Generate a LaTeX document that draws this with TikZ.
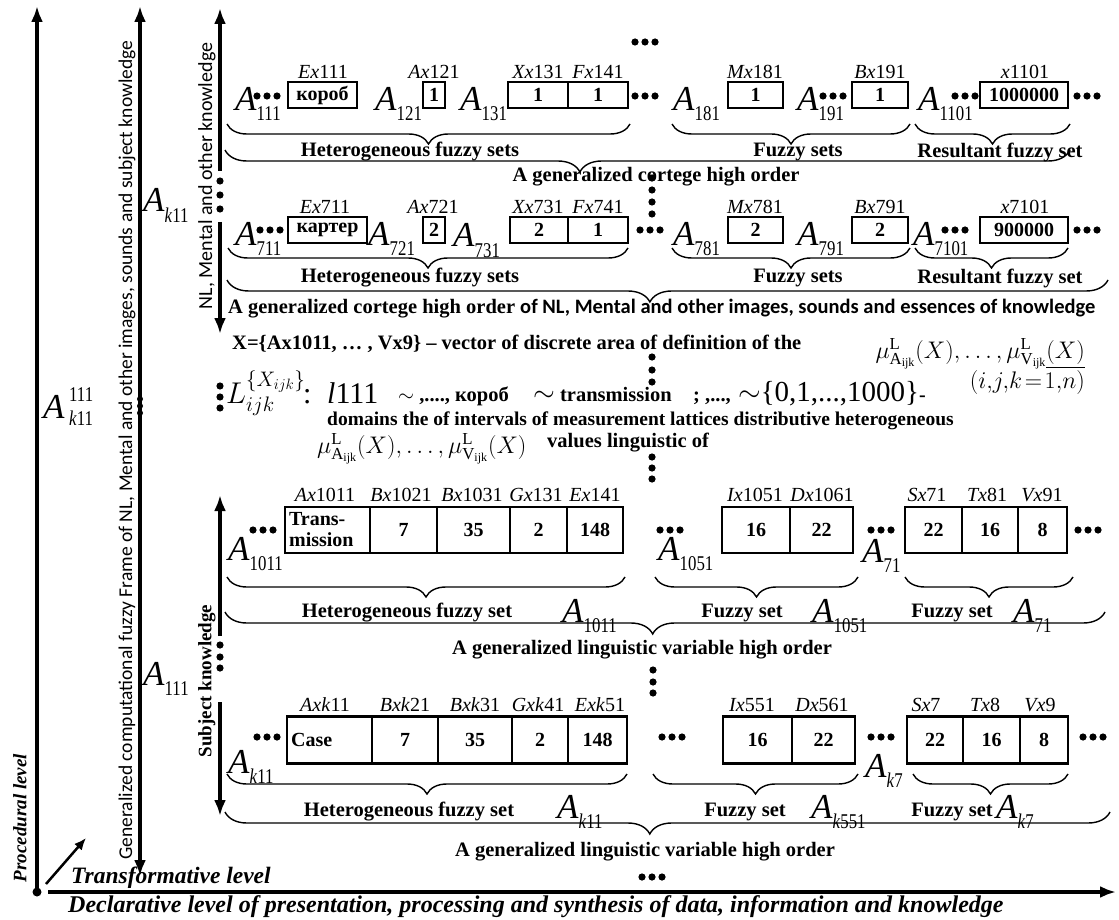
\RequirePackage{fix-cm}
\documentclass[tikz,border=0pt]{standalone}
\usepackage{amsmath}
\usepackage{fontspec}
\setmainfont{Liberation Serif}
\newfontfamily\calib{Carlito}
\usepackage{graphicx}
\usepackage{tikz}
\usetikzlibrary{arrows.meta, decorations.pathreplacing}
\newcommand{\dotrow}[2]{
\foreach \d in {-10,0,10} {\fill (#1+\d,#2) circle (3.6pt);}
}
\newcommand{\Aidx}[1]{\textit{A}\raisebox{-10pt}{\scalebox{0.8}[1]{\fontsize{21}{21}\selectfont #1}}}
\newcommand{\xlab}[2]{\textit{#1}#2}

\tikzset{
  cellbox/.style={draw, line width=2.2pt, inner sep=0pt, font=\fontsize{20}{20}\selectfont\bfseries},
  toplabel/.style={font=\fontsize{20}{20}\selectfont, inner sep=0pt},
  bigA/.style={anchor=base west, inner sep=0pt, font=\fontsize{35}{35}\selectfont},
  bracedown/.style={line width=1.4pt, decorate, decoration={brace, mirror, amplitude=20pt}},
  bigbrace/.style={line width=1.4pt, decorate, decoration={brace, mirror, amplitude=22pt, aspect=#1}},
  bracetext/.style={font=\fontsize{20.5}{20}\selectfont\bfseries, inner sep=0pt},
  axis/.style={line width=3.5pt, -{Latex[length=16pt,width=12pt]}},
  axisboth/.style={line width=3.5pt, {Latex[length=16pt,width=12pt]}-{Latex[length=16pt,width=12pt]}},
}

\begin{document}
\begin{tikzpicture}[x=1pt, y=-1pt]
    \fill[white] (0,0) rectangle (1119,920);
    \useasboundingbox (0,0) rectangle (1119,920);

    % levels
    \coordinate (procbot) at (37,892);
    \coordinate (proctop) at (37,6);
    \coordinate (declstart) at (48,892);
    \coordinate (declend) at (1116,892);
    \coordinate (transA) at (46,884);
    \coordinate (transB) at (86,838);
    \draw[axis] (procbot) -- (proctop);
    \draw[axis] (declstart) -- (declend);
    \draw[line width=2.5pt, -{Latex[length=12pt,width=10pt]}] (transA) -- (transB);
    \fill (procbot) circle (4.5pt);
    \node[rotate=90, font=\fontsize{19}{19}\selectfont\bfseries\itshape] (proclevel) at (20,818) {Procedural level};
    \node[anchor=base west, font=\fontsize{23.5}{23.5}\selectfont\bfseries\itshape, inner sep=0pt] (translevel) at (71,883) {Transformative level};
    \node[anchor=base west, font=\fontsize{24}{24}\selectfont\bfseries\itshape, inner sep=0pt] (decllevel) at (68,912) {Declarative level of presentation, processing and synthesis of data, information and knowledge};
    \dotrow{652}{877}

    % frame axis
    \coordinate (framebot) at (140,876);
    \coordinate (frametop) at (140,6);
    \draw[axisboth] (framebot) -- (frametop);
    \foreach \y in {399,406,413} {\fill (140,\y) circle (3pt);}
    \node[rotate=90, font=\calib\fontsize{19.5}{19.5}\selectfont] (frametext) at (127,450) {Generalized computational fuzzy Frame of NL, Mental and other images, sounds and subject knowledge};
    \node[bigA] (akeleven) at (43,418) {\textit{A}};
    \node[anchor=base west, inner sep=0pt, font=\fontsize{21}{21}\selectfont] (akelevensup) at (69,401) {\scalebox{0.8}[1]{111}};
    \node[anchor=base west, inner sep=0pt, font=\fontsize{21}{21}\selectfont] (akelevensub) at (69,425) {\scalebox{0.8}[1]{\textit{k}11}};
    \node[bigA] (ak11left) at (143,212) {\Aidx{\textit{k}11}};
    \node[bigA] (a111left) at (143,685) {\Aidx{111}};

    % NL axis
    \coordinate (nltop) at (220,8);
    \coordinate (nlmid) at (220,171);
    \coordinate (nlmidb) at (220,222);
    \coordinate (nlbot) at (220,334);
    \draw[axis] (nlmid) -- (nltop);
    \draw[axis] (nlmidb) -- (nlbot);
    \foreach \y in {181,195,209} {\fill (220,\y) circle (3.6pt);}
    \node[rotate=90, font=\calib\fontsize{20}{20}\selectfont] (nltext) at (207,176) {NL, Mental and other knowledge};

    % row 1
    \dotrow{645}{42}
    \foreach \xa/\xb/\txt [count=\i] in {288/357/короб, 423/445/1, 508/568/1, 568/628/1, 728/783/1, 852/908/1, 980/1068/1000000}
        \node[cellbox, minimum width={(\xb-\xa)*1pt}, minimum height=26pt] (ra\i) at ({(\xa+\xb)/2},95) {\txt};
    \foreach \x/\a/\n [count=\i] in {323/Ex/111, 434/Ax/121, 538/Xx/131, 598/Fx/141, 755/Mx/181, 880/Bx/191, 1025/x/1101}
        \node[toplabel] (la\i) at (\x,72) {\xlab{\a}{\n}};
    \node[bigA] (a111) at (235,111) {\Aidx{111}};
    \node[bigA] (a121) at (375,111) {\Aidx{121}};
    \node[bigA] (a131) at (460,111) {\Aidx{131}};
    \node[bigA] (a181) at (673,111) {\Aidx{181}};
    \node[bigA] (a191) at (797,111) {\Aidx{191}};
    \node[bigA] (a1101) at (918,111) {\Aidx{1101}};
    \dotrow{267}{96}
    \dotrow{645}{96}
    \dotrow{833}{96}
    \dotrow{965}{96}
    \dotrow{1087}{96}
    \draw[bracedown] (227,124) -- (630,124);
    \draw[bracedown] (672,124) -- (910,124);
    \draw[bracedown] (915,124) -- (1070,124);
    \node[bracetext] (hfs1) at (410,152) {Heterogeneous fuzzy sets};
    \node[bracetext] (fs1) at (798,152) {Fuzzy sets};
    \node[bracetext] (rfs1) at (1000,152) {Resultant fuzzy set};
    \draw[bigbrace=0.42] (225,150) -- (1070,150);
    \node[bracetext] (gc1) at (656,177) {A generalized cortege high order};
    \foreach \y in {178,190,202,214} {\fill (652,\y) circle (3.6pt);}

    % row 2
    \foreach \xa/\xb/\txt [count=\i] in {288/367/картер, 423/445/2, 510/568/2, 568/628/1, 728/783/2, 852/908/2, 980/1068/900000}
        \node[cellbox, minimum width={(\xb-\xa)*1pt}, minimum height=26pt] (rb\i) at ({(\xa+\xb)/2},230) {\txt};
    \foreach \x/\a/\n [count=\i] in {325/Ex/711, 433/Ax/721, 538/Xx/731, 598/Fx/741, 755/Mx/781, 880/Bx/791, 1025/x/7101}
        \node[toplabel] (lb\i) at (\x,207) {\xlab{\a}{\n}};
    \node[bigA] (a711) at (235,245) {\Aidx{711}};
    \node[bigA] (a721) at (368,245) {\Aidx{721}};
    \node[bigA] (a731) at (453,247) {\Aidx{731}};
    \node[bigA] (a781) at (673,245) {\Aidx{781}};
    \node[bigA] (a791) at (797,245) {\Aidx{791}};
    \node[bigA] (a7101) at (913,245) {\Aidx{7101}};
    \dotrow{270}{230}
    \dotrow{650}{230}
    \dotrow{955}{230}
    \dotrow{1087}{230}
    \draw[bracedown] (228,248) -- (628,248);
    \draw[bracedown] (672,248) -- (910,248);
    \draw[bracedown] (915,248) -- (1068,248);
    \node[bracetext] (hfs2) at (410,278) {Heterogeneous fuzzy sets};
    \node[bracetext] (fs2) at (798,278) {Fuzzy sets};
    \node[bracetext] (rfs2) at (1000,278) {Resultant fuzzy set};
    \draw[bigbrace=0.48] (227,280) -- (1108,280);
    \node[bracetext, anchor=base west] (gc2) at (228,313) {A generalized cortege high order {\calib of NL, Mental and other images, sounds and essences of knowledge}};

    % domains
    \node[bracetext, anchor=base west] (xvec) at (232,349) {X=\{Ax1011, … , Vx9\} – vector of discrete area of definition of the};
    \foreach \y in {357,370,382} {\fill (652,\y) circle (3.6pt);}
    \foreach \y in {386,397,408} {\fill (220,\y) circle (3.6pt);}
    \node[anchor=base west, inner sep=0pt, font=\fontsize{30}{30}\selectfont] (lset) at (226,403) {$L^{\{X_{ijk}\}}_{ijk}$};
    \node[anchor=base west, inner sep=0pt, font=\fontsize{30}{30}\selectfont] (colon) at (303,403) {:};
    \node[anchor=base west, inner sep=0pt, font=\fontsize{30}{30}\selectfont] (l111) at (327,403) {\textit{l}111};
    \node[bracetext, anchor=base west] (korob) at (398,401) {$\sim$ ,...., короб};
    \node[bracetext, anchor=base west] (transm) at (533,401) {{\fontsize{28}{28}\selectfont$\sim$} transmission};
    \node[bracetext, anchor=base west] (semi) at (693,401) {; ,...,};
    \node[anchor=base west, inner sep=0pt, font=\fontsize{29}{29}\selectfont] (range) at (738,401) {$\sim$\{0,1,...,1000\}{\fontsize{20}{20}\selectfont\bfseries -}};
    \node[bracetext, anchor=base west, font=\fontsize{19.5}{20}\selectfont\bfseries] (domains) at (327,425) {domains the of intervals of measurement lattices distributive heterogeneous};
    \node[anchor=base west, inner sep=0pt, font=\fontsize{24}{24}\selectfont] (mualeft) at (317,453) {$\mu^{\mathrm{L}}_{\mathrm{A}_{\mathrm{ijk}}}(X),\ldots,\mu^{\mathrm{L}}_{\mathrm{V}_{\mathrm{ijk}}}(X)$};
    \node[bracetext, anchor=base west] (values) at (547,447) {values linguistic of};
    \node[anchor=base east, inner sep=0pt, font=\fontsize{24}{24}\selectfont] (muright) at (1085,358) {$\mu^{\mathrm{L}}_{\mathrm{A}_{\mathrm{ijk}}}(X),\ldots,\mu^{\mathrm{L}}_{\mathrm{V}_{\mathrm{ijk}}}\underline{(X)}$};
    \node[anchor=base east, inner sep=0pt, font=\fontsize{24}{24}\selectfont] (ijk) at (1085,388) {$(i,\!j,\!k\!=\!1,\!n)$};
    \foreach \y in {457,468,479} {\fill (652,\y) circle (3.6pt);}

    % subject axis
    \coordinate (sktop) at (220,495);
    \coordinate (skmid) at (220,636);
    \coordinate (skmidb) at (220,702);
    \coordinate (skbot) at (220,816);
    \draw[axis] (skmid) -- (sktop);
    \draw[axis] (skmidb) -- (skbot);
    \foreach \y in {645,657,668} {\fill (220,\y) circle (3.6pt);}
    \node[rotate=90, font=\fontsize{19}{19}\selectfont\bfseries] (sktext) at (207,681) {Subject knowledge};

    % row 3
    \foreach \xa/\xb/\txt [count=\i] in {285/370/{}, 370/437/7, 437/510/35, 510/567/2, 567/623/148, 722/790/16, 790/853/22, 905/962/22, 962/1018/16, 1018/1067/8}
        \node[cellbox, minimum width={(\xb-\xa)*1pt}, minimum height=46pt] (rc\i) at ({(\xa+\xb)/2},530) {\txt};
    \node[anchor=west, align=left, inner sep=0pt, font=\fontsize{20}{21}\selectfont\bfseries] (trans) at ([xshift=5pt]rc1.west) {Trans-\\mission};
    \foreach \x/\a/\n [count=\i] in {325/Ax/1011, 401/Bx/1021, 472/Bx/1031, 536/Gx/131, 595/Ex/141, 755/Ix/1051, 822/Dx/1061, 927/Sx/71, 987/Tx/81, 1042/Vx/91}
        \node[toplabel] (lc\i) at (\x,495) {\xlab{\a}{\n}};
    \node[bigA] (a1011) at (228,560) {\Aidx{1011}};
    \node[bigA] (a1051) at (658,560) {\Aidx{1051}};
    \node[bigA] (a71) at (862,562) {\Aidx{71}};
    \dotrow{263}{530}
    \dotrow{670}{530}
    \dotrow{881}{530}
    \dotrow{1088}{530}
    \draw[bracedown] (227,577) -- (625,577);
    \draw[bracedown] (655,577) -- (858,577);
    \draw[bracedown] (905,577) -- (1073,577);
    \node[bracetext] (hfs3) at (407,613) {Heterogeneous fuzzy set};
    \node[bracetext] (fs3a) at (742,613) {Fuzzy set};
    \node[bracetext] (fs3b) at (952,613) {Fuzzy set};
    \node[bigA] (a1011b) at (562,622) {\Aidx{1011}};
    \node[bigA] (a1051b) at (812,622) {\Aidx{1051}};
    \node[bigA] (a71b) at (1013,622) {\Aidx{71}};
    \draw[bigbrace=0.486] (225,612) -- (1105,612);
    \node[bracetext] (glv3) at (642,650) {A generalized linguistic variable high order};
    \foreach \y in {670,682,693} {\fill (653,\y) circle (3.6pt);}

    % row 4
    \foreach \xa/\xb/\txt [count=\i] in {287/372/{}, 372/438/7, 438/512/35, 512/568/2, 568/627/148, 723/792/16, 792/855/22, 907/963/22, 963/1020/16, 1020/1068/8}
        \node[cellbox, minimum width={(\xb-\xa)*1pt}, minimum height=47pt] (rd\i) at ({(\xa+\xb)/2},740) {\txt};
    \node[anchor=west, inner sep=0pt, font=\fontsize{20}{20}\selectfont\bfseries] (case) at ([xshift=5pt]rd1.west) {Case};
    \foreach \x/\a/\n [count=\i] in {325/Axk/11, 405/Bxk/21, 475/Bxk/31, 538/Gxk/41, 600/Exk/51, 752/Ix/551, 822/Dx/561, 926/Sx/7, 985/Tx/8, 1040/Vx/9}
        \node[toplabel] (ld\i) at (\x,705) {\xlab{\a}{\n}};
    \node[bigA] (ak11) at (228,773) {\Aidx{\textit{k}11}};
    \node[bigA] (ak7) at (865,777) {\Aidx{\textit{k}7}};
    \dotrow{267}{737}
    \dotrow{672}{737}
    \dotrow{881}{737}
    \dotrow{1093}{737}
    \draw[bracedown] (227,774) -- (627,774);
    \draw[bracedown] (653,774) -- (858,774);
    \draw[bracedown] (913,774) -- (1068,774);
    \node[bracetext] (hfs4) at (409,812) {Heterogeneous fuzzy set};
    \node[bracetext] (fs4a) at (745,812) {Fuzzy set};
    \node[bracetext] (fs4b) at (952,812) {Fuzzy set};
    \node[bigA] (ak11b) at (557,818) {\Aidx{\textit{k}11}};
    \node[bigA] (ak551b) at (811,818) {\Aidx{\textit{k}551}};
    \node[bigA] (ak7b) at (996,818) {\Aidx{\textit{k}7}};
    \draw[bigbrace=0.48] (225,812) -- (1110,812);
    \node[bracetext] (glv4) at (645,852) {A generalized linguistic variable high order};
\end{tikzpicture}
\end{document}
